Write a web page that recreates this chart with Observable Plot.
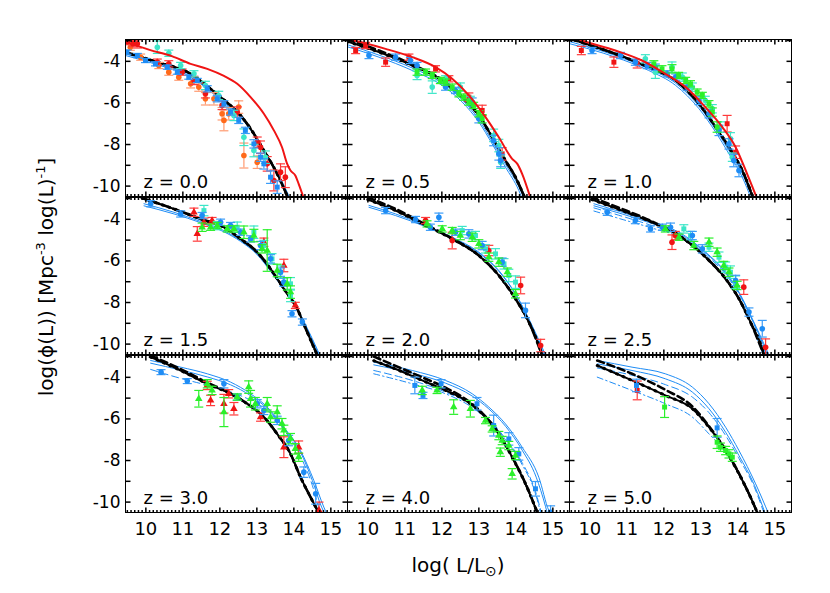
<!DOCTYPE html>
<html><head><meta charset="utf-8">
<script src="https://cdn.jsdelivr.net/npm/d3@7"></script>
<script src="https://cdn.jsdelivr.net/npm/@observablehq/plot@0.6"></script>
<style>
body{margin:0;background:#fff;}
#chart{position:relative;width:830px;height:593px;background:#fff;}
</style></head><body><div id="chart"></div>
<script>
// ---------------- DATA ----------------
const zLabels = ["0.0","0.5","1.0","1.5","2.0","2.5","3.0","4.0","5.0"];
const xTickLabels = [10, 11, 12, 13, 14, 15];
const yTickLabels = [-4, -6, -8, -10];

// model curves: [z, [[log L, log phi], ...]]
const redLine = [
  ["0.0", [[9.45,-3.05],[10.1,-3.45],[10.7,-3.75],[11.21,-4.12],[11.66,-4.36],[12.11,-4.7],[12.47,-5.08],[12.83,-5.72],[13.19,-6.52],[13.46,-7.32],[13.68,-8.13],[13.82,-8.93],[13.91,-9.25],[14.04,-9.49],[14.13,-9.89],[14.27,-10.6]]],
  ["0.5", [[9.4,-2.92],[9.62,-3.0],[10.48,-3.4],[11.2,-3.8],[11.83,-4.28],[12.28,-4.84],[12.73,-5.64],[13.18,-6.68],[13.54,-7.65],[13.9,-8.69],[14.04,-8.93],[14.17,-9.41],[14.4,-10.6]]],
  ["1.0", [[9.5,-2.82],[9.79,-3.0],[10.69,-3.48],[11.41,-3.96],[12.04,-4.6],[12.59,-5.24],[13.12,-6.2],[13.58,-7.16],[13.94,-8.13],[14.25,-9.41],[14.52,-10.6]]]
];
const blackLine = [
  ["0.0", [[9.45,-3.56],[10.31,-4.04],[11.21,-4.6],[11.66,-5.2],[12.11,-5.85],[12.56,-6.6],[12.83,-7.24],[13.19,-8.29],[13.55,-9.41],[13.85,-10.6]]],
  ["0.5", [[9.45,-3.05],[10.3,-3.56],[11.2,-4.2],[12.01,-4.92],[12.55,-5.72],[13.0,-6.6],[13.36,-7.65],[13.72,-8.77],[13.99,-9.57],[14.25,-10.6]]],
  ["1.0", [[9.45,-2.9],[10.69,-3.64],[11.59,-4.28],[12.32,-4.92],[12.95,-6.04],[13.4,-7.16],[13.76,-8.13],[14.12,-9.25],[14.42,-10.6]]],
  ["1.5", [[9.9,-2.98],[10.76,-3.5],[11.48,-3.98],[12.11,-4.38],[12.56,-4.94],[13.01,-5.58],[13.37,-6.38],[13.73,-7.34],[14.09,-8.3],[14.36,-9.42],[14.65,-10.6]]],
  ["2.0", [[10.0,-3.05],[10.75,-3.58],[11.56,-4.3],[12.28,-4.94],[13.0,-5.74],[13.54,-6.7],[13.99,-7.82],[14.35,-8.94],[14.67,-10.31],[14.72,-10.6]]],
  ["2.5", [[10.05,-3.05],[10.87,-3.58],[11.68,-4.14],[12.41,-4.78],[13.13,-5.82],[13.67,-6.86],[14.03,-7.82],[14.34,-8.94],[14.66,-10.23],[14.72,-10.6]]],
  ["3.0", [[10.13,-3.03],[10.94,-3.67],[11.66,-4.31],[12.29,-4.79],[12.74,-5.27],[13.19,-5.91],[13.55,-6.72],[13.91,-7.68],[14.18,-8.8],[14.45,-9.76],[14.7,-10.6]]],
  ["4.0", [[10.16,-3.2],[10.75,-3.6],[11.47,-4.15],[12.1,-4.63],[12.64,-5.11],[13.09,-5.75],[13.54,-6.72],[13.9,-7.84],[14.26,-9.12],[14.6,-10.6]]],
  ["5.0", [[10.2,-3.43],[11.14,-4.15],[12.04,-4.87],[12.77,-5.51],[13.22,-6.4],[13.67,-7.52],[14.03,-8.64],[14.3,-9.6],[14.55,-10.6]]]
];
const blackDash = [
  ["0.5", [[9.45,-2.95],[10.3,-3.48],[11.2,-4.15],[12.01,-4.9],[12.55,-5.72],[13.0,-6.6],[13.36,-7.65],[13.72,-8.77],[13.99,-9.57],[14.25,-10.6]]],
  ["2.0", [[10.0,-2.95],[10.75,-3.5],[11.56,-4.25],[12.28,-4.92],[13.0,-5.74],[13.54,-6.7],[13.99,-7.82],[14.35,-8.94],[14.72,-10.6]]],
  ["2.5", [[10.05,-2.95],[10.87,-3.5],[11.68,-4.1],[12.41,-4.78],[13.13,-5.82],[13.67,-6.86],[14.03,-7.82],[14.34,-8.94],[14.72,-10.6]]],
  ["3.0", [[10.13,-2.95],[10.94,-3.6],[11.66,-4.25],[12.29,-4.77],[12.74,-5.27],[13.19,-5.91],[13.55,-6.72],[13.91,-7.68],[14.18,-8.8],[14.45,-9.76],[14.7,-10.6]]],
  ["4.0", [[10.16,-3.0],[10.75,-3.45],[11.47,-4.0],[12.1,-4.5],[12.64,-5.05],[13.09,-5.72],[13.54,-6.7],[13.9,-7.82],[14.26,-9.1],[14.6,-10.6]]],
  ["5.0", [[10.2,-3.19],[11.14,-3.83],[12.04,-4.6],[12.77,-5.4],[13.22,-6.35],[13.67,-7.5],[14.03,-8.62],[14.3,-9.6],[14.55,-10.6]]]
];
const blueLine1 = [
  ["0.0", [[9.45,-3.65],[10.31,-4.1],[11.21,-4.68],[11.66,-5.28],[12.11,-5.92],[12.56,-6.66],[12.83,-7.28],[13.19,-8.3],[13.55,-9.38],[13.88,-10.6]]],
  ["0.5", [[9.45,-3.3],[10.3,-3.8],[11.2,-4.44],[12.01,-5.16],[12.55,-5.96],[13.0,-6.92],[13.36,-7.97],[13.72,-9.09],[14.08,-10.21],[14.17,-10.6]]],
  ["1.0", [[9.45,-3.15],[10.69,-3.8],[11.59,-4.44],[12.32,-5.16],[12.95,-6.28],[13.4,-7.4],[13.76,-8.45],[14.12,-9.57],[14.36,-10.6]]],
  ["1.5", [[9.95,-3.25],[10.76,-3.66],[11.48,-4.1],[12.11,-4.54],[12.56,-5.02],[13.01,-5.66],[13.37,-6.46],[13.73,-7.34],[14.09,-8.3],[14.4,-9.42],[14.7,-10.6]]],
  ["2.0", [[10.03,-3.33],[10.75,-3.74],[11.56,-4.3],[12.28,-4.86],[13.0,-5.58],[13.54,-6.46],[13.99,-7.58],[14.35,-8.78],[14.82,-10.6]]],
  ["2.5", [[10.11,-3.25],[10.87,-3.66],[11.68,-4.14],[12.41,-4.62],[13.13,-5.58],[13.67,-6.54],[14.03,-7.5],[14.39,-8.78],[14.86,-10.6]]],
  ["3.0", [[10.13,-3.19],[10.94,-3.51],[11.66,-3.83],[12.29,-4.23],[12.83,-4.79],[13.28,-5.43],[13.73,-6.4],[14.18,-7.52],[14.54,-8.96],[14.81,-10.24],[14.9,-10.6]]],
  ["4.0", [[10.16,-3.27],[11.2,-3.67],[12.1,-4.15],[12.82,-4.79],[13.27,-5.43],[13.72,-6.24],[14.17,-7.36],[14.62,-8.8],[14.89,-10.4],[14.95,-10.6]]],
  ["5.0", [[10.2,-3.19],[11.14,-3.51],[12.04,-3.83],[12.77,-4.47],[13.22,-5.27],[13.67,-6.4],[14.03,-7.52],[14.48,-9.12],[14.84,-10.6]]]
];
const blueLine2 = [
  ["0.0", [[9.45,-3.72],[10.31,-4.16],[11.21,-4.74],[11.66,-5.33],[12.11,-5.98],[12.56,-6.7],[12.83,-7.3],[13.19,-8.28],[13.55,-9.32],[13.9,-10.6]]],
  ["0.5", [[9.45,-3.2],[10.3,-3.7],[11.2,-4.32],[12.01,-5.05],[12.55,-5.85],[13.0,-6.8],[13.36,-7.85],[13.72,-8.95],[14.1,-10.1],[14.22,-10.6]]],
  ["1.0", [[9.45,-3.05],[10.69,-3.72],[11.59,-4.36],[12.32,-5.05],[12.95,-6.16],[13.4,-7.28],[13.76,-8.3],[14.12,-9.4],[14.4,-10.6]]],
  ["1.5", [[9.95,-3.35],[10.76,-3.74],[11.48,-4.16],[12.11,-4.6],[12.56,-5.06],[13.01,-5.7],[13.37,-6.5],[13.73,-7.38],[14.09,-8.32],[14.42,-9.45],[14.72,-10.6]]],
  ["2.0", [[10.03,-3.42],[10.75,-3.82],[11.56,-4.35],[12.28,-4.9],[13.0,-5.62],[13.54,-6.5],[13.99,-7.6],[14.35,-8.8],[14.78,-10.6]]],
  ["2.5", [[10.11,-3.35],[10.87,-3.74],[11.68,-4.2],[12.41,-4.68],[13.13,-5.62],[13.67,-6.58],[14.03,-7.54],[14.39,-8.82],[14.82,-10.6]]],
  ["3.0", [[10.13,-3.32],[10.94,-3.65],[11.66,-3.98],[12.29,-4.36],[12.83,-4.88],[13.28,-5.5],[13.73,-6.45],[14.18,-7.6],[14.5,-8.96],[14.75,-10.24],[14.85,-10.6]]],
  ["4.0", [[10.16,-3.4],[11.2,-3.8],[12.1,-4.28],[12.82,-4.9],[13.27,-5.52],[13.72,-6.35],[14.17,-7.5],[14.55,-8.8],[14.8,-10.2],[14.86,-10.6]]],
  ["5.0", [[10.2,-3.35],[11.14,-3.67],[12.04,-4.07],[12.77,-4.71],[13.22,-5.51],[13.67,-6.64],[14.03,-7.76],[14.45,-9.2],[14.75,-10.6]]]
];
const blueDash = [
  ["2.5", [[10.11,-3.45],[10.87,-3.85],[11.68,-4.3],[12.41,-4.75],[13.13,-5.7],[13.67,-6.65],[14.03,-7.6],[14.39,-8.85],[14.78,-10.6]]],
  ["3.0", [[10.13,-3.62],[10.94,-4.05],[11.66,-4.38],[12.29,-4.7],[12.83,-5.1],[13.28,-5.6],[13.73,-6.5],[14.18,-7.8],[14.5,-9.2],[14.72,-10.6]]],
  ["4.0", [[10.16,-3.67],[11.2,-4.15],[12.1,-4.71],[12.82,-5.35],[13.27,-6.0],[13.72,-6.95],[14.17,-8.1],[14.55,-9.6],[14.7,-10.6]]],
  ["5.0", [[10.2,-3.55],[11.14,-3.9],[12.04,-4.35],[12.77,-4.95],[13.22,-5.7],[13.67,-6.8],[14.03,-7.9],[14.45,-9.3],[14.72,-10.6]]]
];
const blueDashDot = [
  ["2.5", [[10.11,-3.6],[10.87,-4.0],[11.68,-4.42],[12.41,-4.85],[13.13,-5.85],[13.67,-6.85],[14.03,-7.8],[14.34,-8.95],[14.7,-10.6]]],
  ["4.0", [[10.16,-3.83],[11.2,-4.31],[12.1,-4.79],[12.82,-5.45],[13.27,-6.1],[13.72,-7.0],[14.17,-8.2],[14.55,-9.7],[14.68,-10.6]]],
  ["5.0", [[10.2,-3.99],[11.14,-4.63],[12.04,-5.27],[12.77,-5.91],[13.22,-6.72],[13.67,-7.6],[14.03,-8.66],[14.3,-9.6],[14.55,-10.6]]]
];

// observed points: [z, marker, [[log L, log phi, error], ...]]
const ptsRed = [
  ["0.0","circle",[[9.5,-3.05,0.15],[9.65,-3.15,0.15],[9.77,-3.16,0.2],[10.31,-4.04,0.15],[10.62,-4.12,0.15],[10.98,-4.52,0.15],[11.3,-4.92,0.2],[11.61,-5.56,0.2],[12.06,-6.12,0.2],[12.47,-6.44,0.25],[13.01,-7.89,0.25],[13.1,-8.13,0.3],[13.28,-8.93,0.35],[13.46,-9.73,0.5],[13.64,-9.33,0.4],[13.77,-9.57,0.5]]],
  ["0.5","square",[[9.67,-3.48,0.15],[9.94,-3.24,0.15],[10.48,-4.04,0.2],[11.11,-3.8,0.15],[11.83,-4.36,0.15],[12.19,-4.84,0.15],[12.73,-5.72,0.2],[13.09,-6.36,0.25],[13.63,-8.45,0.3]]],
  ["1.0","square",[[9.77,-3.48,0.2],[10.65,-4.04,0.25],[11.28,-4.12,0.2],[13.71,-7.0,0.4],[13.94,-8.37,0.3]]],
  ["1.5","triangle",[[11.3,-3.66,0.2],[11.39,-4.7,0.35],[11.57,-4.14,0.2],[11.79,-4.06,0.15],[13.19,-5.1,0.2],[13.73,-6.22,0.3],[14.04,-8.14,0.15]]],
  ["2.0","circle",[[11.56,-4.06,0.15],[12.28,-5.02,0.4],[13.27,-5.5,0.25],[14.13,-7.18,0.4],[14.67,-10.07,0.3]]],
  ["2.5","circle",[[12.22,-5.1,0.35],[12.31,-4.78,0.2],[14.16,-7.26,0.35],[14.75,-10.15,0.4]]],
  ["3.0","triangle",[[11.66,-4.39,0.2],[11.75,-5.11,0.25],[12.11,-5.27,0.45],[12.24,-4.79,0.2],[12.38,-5.51,0.3],[13.1,-5.91,0.2],[13.73,-7.36,0.5],[14.13,-7.36,0.3],[14.68,-10.4,0.4]]],
  ["5.0","square",[[11.28,-4.63,0.45]]]
];
const ptsOrange = [
  ["0.0","circle",[[9.58,-3.32,0.15],[9.86,-3.8,0.15],[10.35,-4.2,0.15],[10.62,-4.52,0.15],[10.89,-4.76,0.15],[11.21,-5.08,0.2],[11.43,-5.24,0.2],[11.61,-5.8,0.3],[11.84,-5.8,0.3],[12.06,-6.52,0.3],[12.11,-6.84,0.5],[12.24,-6.52,0.3],[12.51,-6.2,0.3],[12.65,-8.53,0.6],[13.01,-8.85,0.3]]]
];
const ptsTurq = [
  ["0.0","circle",[[10.31,-3.32,0.3],[10.62,-3.61,0.15],[10.94,-4.2,0.15],[11.3,-4.6,0.15],[11.61,-5.16,0.2],[11.97,-5.64,0.2],[12.38,-6.6,0.25],[12.65,-7.65,0.4],[12.92,-8.29,0.3],[13.23,-8.61,0.3]]],
  ["0.5","circle",[[11.33,-4.68,0.2],[11.74,-5.24,0.3],[12.1,-4.84,0.15],[12.5,-5.24,0.2],[12.77,-5.88,0.2],[13.4,-7.56,0.3],[13.54,-8.05,0.3],[13.59,-8.85,0.3]]],
  ["1.0","circle",[[11.5,-3.88,0.2],[11.77,-4.52,0.3],[12.22,-4.28,0.25],[12.5,-4.76,0.2],[12.77,-5.24,0.2],[13.12,-5.88,0.2],[13.31,-6.28,0.2],[13.53,-7.16,0.25],[13.8,-7.73,0.3],[13.85,-8.61,0.2]]],
  ["1.5","square",[[11.57,-3.58,0.25],[11.93,-4.3,0.2],[12.47,-4.38,0.25],[12.92,-4.62,0.3],[13.19,-5.26,0.25],[13.41,-5.9,0.25],[13.64,-6.54,0.3],[13.91,-7.1,0.3],[13.91,-7.66,0.3]]],
  ["2.0","square",[[12.55,-4.54,0.2],[12.91,-4.78,0.2],[13.18,-5.42,0.2],[13.45,-5.66,0.25],[13.68,-6.14,0.25],[13.81,-6.7,0.3],[13.99,-7.02,0.3]]],
  ["2.5","square",[[12.54,-4.46,0.2],[12.72,-4.78,0.2],[13.22,-5.34,0.2],[13.49,-5.82,0.25],[13.67,-6.3,0.25],[13.8,-6.54,0.3],[13.94,-7.02,0.3]]]
];
const ptsBlue = [
  ["0.0","square",[[9.49,-3.56,0.1],[9.77,-3.72,0.1],[9.99,-3.96,0.1],[10.26,-4.12,0.1],[10.58,-4.28,0.1],[10.85,-4.52,0.1],[11.16,-4.76,0.1],[11.39,-4.92,0.1],[11.66,-5.32,0.15],[11.93,-5.8,0.15],[12.11,-6.04,0.15],[12.29,-6.44,0.15],[12.51,-6.84,0.15],[12.69,-7.32,0.15],[12.92,-7.97,0.2],[13.1,-8.61,0.2],[13.19,-8.93,0.25],[13.37,-9.57,0.3],[13.55,-10.05,0.3]]],
  ["0.5","circle",[[10.03,-3.72,0.15],[10.75,-3.8,0.15],[11.15,-3.96,0.15],[11.33,-4.2,0.15],[12.1,-5.24,0.15],[12.37,-5.4,0.15],[12.82,-5.96,0.2],[13.0,-6.76,0.2],[13.4,-7.81,0.25],[13.54,-8.45,0.3],[13.59,-8.77,0.3]]],
  ["1.0","circle",[[10.06,-3.48,0.15],[10.83,-3.72,0.15],[11.23,-4.04,0.15],[11.55,-4.2,0.15],[11.77,-4.28,0.15],[12.09,-4.6,0.15],[12.32,-4.76,0.15],[12.63,-5.24,0.15],[12.95,-5.88,0.2],[13.22,-6.52,0.2],[13.49,-7.32,0.25],[13.76,-7.97,0.25],[13.89,-8.77,0.3],[14.03,-9.25,0.3]]],
  ["1.5","circle",[[10.13,-3.25,0.15],[10.94,-3.74,0.15],[11.52,-3.82,0.15],[12.02,-4.14,0.15],[12.29,-4.3,0.15],[12.56,-4.62,0.15],[12.83,-4.94,0.15],[13.1,-5.26,0.2],[13.37,-5.9,0.2],[13.64,-6.54,0.2],[13.73,-7.02,0.2],[13.95,-8.54,0.15],[14.23,-8.94,0.15]]],
  ["2.0","circle",[[10.48,-3.58,0.15],[11.29,-4.01,0.15],[11.69,-4.38,0.15],[11.92,-3.9,0.2],[12.37,-4.62,0.15],[12.73,-4.7,0.2],[13.09,-5.26,0.2],[13.63,-6.06,0.2],[14.26,-8.38,0.35]]],
  ["2.5","circle",[[10.47,-3.66,0.15],[11.23,-4.06,0.15],[11.64,-4.46,0.15],[11.96,-4.38,0.15],[12.18,-4.38,0.2],[12.77,-4.78,0.2],[13.04,-5.42,0.2],[13.94,-6.94,0.25],[14.3,-8.46,0.2],[14.66,-9.26,0.4]]],
  ["3.0","circle",[[10.41,-3.75,0.12],[11.12,-4.18,0.12],[12.11,-4.31,0.2],[12.47,-4.95,0.15],[13.01,-5.27,0.2],[13.19,-5.59,0.2],[13.55,-6.07,0.2],[13.86,-7.04,0.25],[14.27,-8.56,0.25],[14.59,-9.6,0.5]]],
  ["4.0","square",[[11.27,-4.39,0.4],[11.49,-4.87,0.15],[11.98,-4.31,0.2],[12.95,-5.27,0.3],[13.4,-6.32,0.5],[13.81,-6.96,0.3],[14.08,-7.68,0.3],[14.53,-9.36,0.35],[14.94,-10.48,0.3]]],
  ["5.0","square",[[11.26,-4.39,0.3],[13.44,-6.43,0.45]]]
];
const ptsGreen = [
  ["0.5","square",[[11.33,-4.52,0.15],[11.56,-4.52,0.15],[11.74,-4.68,0.15],[11.96,-4.92,0.15],[12.1,-5.0,0.15],[12.28,-5.24,0.15],[12.46,-5.56,0.15],[12.59,-5.72,0.15],[12.73,-5.96,0.15],[12.86,-6.12,0.15],[13.0,-6.52,0.15],[13.09,-6.76,0.2]]],
  ["1.0","square",[[11.73,-4.12,0.15],[11.95,-4.36,0.15],[12.22,-4.36,0.2],[12.4,-4.68,0.15],[12.59,-4.92,0.15],[12.72,-5.08,0.15],[12.9,-5.48,0.15],[13.04,-5.64,0.15],[13.22,-6.04,0.15],[13.31,-6.44,0.2],[13.44,-7.16,0.25]]],
  ["1.5","triangle",[[11.52,-4.38,0.2],[11.75,-4.38,0.15],[11.93,-4.3,0.15],[12.2,-4.46,0.15],[12.38,-4.46,0.15],[12.65,-4.62,0.3],[12.92,-4.78,0.3],[13.14,-5.42,0.2],[13.28,-5.5,1.0],[13.55,-6.46,0.3],[13.82,-7.1,0.3],[13.91,-7.5,0.3]]],
  ["2.0","triangle",[[11.6,-4.22,0.15],[12.01,-4.46,0.15],[12.28,-4.54,0.15],[12.5,-4.78,0.2],[12.82,-4.86,0.2],[13.0,-5.18,0.2],[13.27,-5.82,0.2],[13.54,-6.06,0.2],[13.77,-6.54,0.2],[13.99,-7.58,0.2]]],
  ["2.5","triangle",[[12.04,-4.46,0.15],[12.41,-4.86,0.15],[12.81,-5.26,0.2],[13.22,-5.1,0.2],[13.44,-5.58,0.2],[13.62,-6.22,0.2],[13.76,-6.54,0.2],[13.98,-7.18,0.2]]],
  ["3.0","triangle",[[11.43,-5.03,0.4],[11.66,-4.31,0.2],[11.79,-4.63,0.2],[12.11,-5.67,0.7],[12.47,-4.95,0.15],[12.78,-4.47,0.3],[12.83,-5.03,0.4],[12.96,-5.27,0.3],[13.28,-5.27,0.3],[13.37,-5.91,0.25],[13.55,-5.67,0.3],[13.68,-6.23,0.25],[13.73,-6.55,0.25],[13.91,-6.95,0.25],[14.04,-7.44,0.25],[14.13,-7.84,0.2]]],
  ["4.0","triangle",[[11.47,-4.63,0.2],[11.87,-4.63,0.15],[12.32,-5.43,0.35],[12.77,-5.51,0.4],[13.18,-6.08,0.15],[13.36,-6.48,0.15],[13.54,-6.8,0.2],[13.63,-7.04,0.2],[13.81,-7.28,0.2],[13.58,-7.6,0.2],[13.99,-7.76,0.2],[13.9,-8.64,0.25]]],
  ["5.0","square",[[12.02,-5.43,0.5],[13.44,-7.12,0.3],[13.53,-7.36,0.2],[13.67,-7.52,0.2],[13.76,-7.68,0.2],[13.85,-7.84,0.2]]]
];

// ---------------- STYLE / LAYOUT ----------------
const FONT = '"DejaVu Sans", sans-serif';
const RED = "#f01414", ORANGE = "#ff6a1a", TURQ = "#3ce6c8", BLUE = "#1e8cf5", GREEN = "#2af02a";
const colLeft = [125, 347, 569], rowTop = [39, 197, 355];
const PW = 222, PH = 157;
const xDomain = [9.45, 15.45], yDomain = [-10.5, -2.95];

const curveRows = g => g.flatMap(([z, pts]) => pts.map(([x, y]) => ({z, x, y})));
const pointRows = g => g.flatMap(([z, symbol, pts]) => pts.map(([x, y, e]) => ({z, symbol, x, y, e})));

const R = curveRows(redLine), K = curveRows(blackLine), KD = curveRows(blackDash);
const B1 = curveRows(blueLine1), B2 = curveRows(blueLine2), BD = curveRows(blueDash), BDD = curveRows(blueDashDot);
const pointSets = [
  [pointRows(ptsOrange), ORANGE, "#ff9a70"],
  [pointRows(ptsRed), RED, "#ff3a3a"],
  [pointRows(ptsTurq), TURQ, TURQ],
  [pointRows(ptsBlue), BLUE, "#3a9cf8"],
  [pointRows(ptsGreen), GREEN, GREEN]
];

// tick symbols (fixed pixel lengths)
const len = s => Math.sqrt(s / Math.PI);
const symUp = {draw(c, s) { c.moveTo(0, 0); c.lineTo(0, -len(s)); }};
const symDown = {draw(c, s) { c.moveTo(0, 0); c.lineTo(0, len(s)); }};
const symRight = {draw(c, s) { c.moveTo(0, 0); c.lineTo(len(s), 0); }};
const symLeft = {draw(c, s) { c.moveTo(0, 0); c.lineTo(-len(s), 0); }};
const symCap = {draw(c, s) { const l = len(s); c.moveTo(-l, 0); c.lineTo(l, 0); }};

const xMajor = d3.range(10, 16);
const xMinor = d3.range(95, 155).filter(d => d % 10 !== 0).map(d => d / 10);
const yMajor = d3.range(-10, -2);

const chart = document.getElementById("chart");

zLabels.forEach((z, i) => {
  const col = i % 3, row = Math.floor(i / 3);
  const sel = arr => arr.filter(d => d.z === z);
  const L = (data, o) => Plot.line(data, {x: "x", y: "y", curve: "monotone-x", clip: true, ...o});
  const marks = [];
  marks.push(L(sel(BDD), {stroke: BLUE, strokeWidth: 1, strokeDasharray: "6,3,1.5,3"}));
  marks.push(L(sel(BD), {stroke: BLUE, strokeWidth: 1, strokeDasharray: "7,4"}));
  marks.push(L(sel(B2), {stroke: BLUE, strokeWidth: 1}));
  marks.push(L(sel(B1), {stroke: BLUE, strokeWidth: 1}));
  marks.push(L(sel(K), {stroke: "black", strokeWidth: 2}));
  const kd = sel(KD);
  marks.push(L(kd.length ? kd : sel(K), {stroke: "black", strokeWidth: 2.6, strokeDasharray: "7,4"}));
  marks.push(L(sel(K), {stroke: "black", strokeWidth: 3, strokeDasharray: "1,6"}));
  for (const [rows, color, bar] of pointSets) {
    const p = sel(rows);
    if (!p.length) continue;
    marks.push(Plot.ruleX(p, {x: "x", y1: d => d.y - d.e, y2: d => d.y + d.e, stroke: bar, strokeWidth: 1.2, clip: true}));
    marks.push(Plot.dot(p, {x: "x", y: d => d.y + d.e, symbol: symCap, r: 4.5, fill: "none", stroke: bar, strokeWidth: 1.2, clip: true}));
    marks.push(Plot.dot(p, {x: "x", y: d => d.y - d.e, symbol: symCap, r: 4.5, fill: "none", stroke: bar, strokeWidth: 1.2, clip: true}));
    for (const s of [...new Set(p.map(d => d.symbol))]) {
      marks.push(Plot.dot(p.filter(d => d.symbol === s), {x: "x", y: "y", symbol: s, r: 2.8, fill: color, stroke: "none", clip: true}));
    }
  }
  marks.push(L(sel(R), {stroke: RED, strokeWidth: 2}));
  // inward ticks on all four sides
  marks.push(Plot.dot(xMinor, {x: d => d, frameAnchor: "bottom", symbol: symUp, r: 2.5, fill: "none", stroke: "black"}));
  marks.push(Plot.dot(xMinor, {x: d => d, frameAnchor: "top", symbol: symDown, r: 2.5, fill: "none", stroke: "black"}));
  marks.push(Plot.dot(xMajor, {x: d => d, frameAnchor: "bottom", symbol: symUp, r: 5, fill: "none", stroke: "black"}));
  marks.push(Plot.dot(xMajor, {x: d => d, frameAnchor: "top", symbol: symDown, r: 5, fill: "none", stroke: "black"}));
  marks.push(Plot.dot(yMajor, {y: d => d, frameAnchor: "left", symbol: symRight, r: 5, fill: "none", stroke: "black"}));
  marks.push(Plot.dot(yMajor, {y: d => d, frameAnchor: "right", symbol: symLeft, r: 5, fill: "none", stroke: "black"}));
  marks.push(Plot.frame({stroke: "black", strokeWidth: 1}));
  marks.push(Plot.text([`z = ${z}`], {frameAnchor: "bottom-left", text: d => d, textAnchor: "start", lineAnchor: "bottom", dx: 18, dy: -9, fontSize: 18, fill: "black"}));
  if (col === 0) marks.push(Plot.axisY(yTickLabels, {anchor: "left", tickSize: 0, tickPadding: 5, tickFormat: d => String(d), fontSize: 17, label: null}));
  if (row === 2) marks.push(Plot.axisX(xTickLabels, {anchor: "bottom", tickSize: 0, tickPadding: 10, tickFormat: d => String(d), fontSize: 18, label: null}));
  const svg = Plot.plot({
    width: PW, height: PH, margin: 0,
    x: {domain: xDomain, axis: null},
    y: {domain: yDomain, axis: null},
    style: {position: "absolute", left: colLeft[col] + "px", top: rowTop[row] + "px", overflow: "visible",
            background: "transparent", fontFamily: FONT, fontSize: "17px", color: "black"},
    marks
  });
  chart.appendChild(svg);
});

// axis titles
const ov = d3.select(chart).append("svg")
  .attr("width", 830).attr("height", 593)
  .style("position", "absolute").style("left", "0px").style("top", "0px")
  .style("font-family", FONT).style("pointer-events", "none").style("white-space", "pre");
const xt = ov.append("text").attr("x", 458).attr("y", 572).attr("text-anchor", "middle").attr("font-size", 20).attr("fill", "black");
xt.append("tspan").text("log( L/L");
xt.append("tspan").attr("font-size", 14).attr("dy", 4).text("\u2299");
xt.append("tspan").attr("font-size", 20).attr("dy", -4).text(")");
const yt = ov.append("text").attr("transform", "translate(53,277) rotate(-90)").attr("text-anchor", "middle").attr("font-size", 20).attr("fill", "black");
yt.append("tspan").text("log(\u03d5(L))  [Mpc");
yt.append("tspan").attr("font-size", 13).attr("dy", -8).text("-3");
yt.append("tspan").attr("font-size", 20).attr("dy", 8).text(" log(L)");
yt.append("tspan").attr("font-size", 13).attr("dy", -8).text("-1");
yt.append("tspan").attr("font-size", 20).attr("dy", 8).text("]");
</script></body></html>
